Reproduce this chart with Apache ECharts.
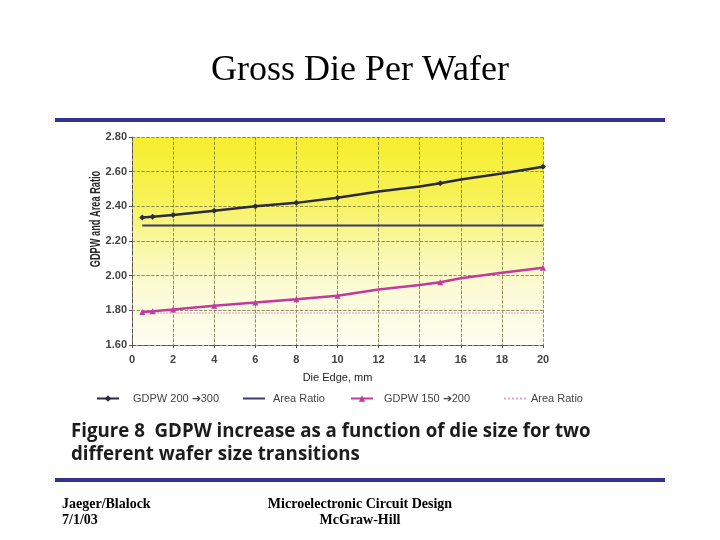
<!DOCTYPE html>
<html>
<head>
<meta charset="utf-8">
<title>Gross Die Per Wafer</title>
<script src="https://cdn.jsdelivr.net/npm/echarts@6.0.0/dist/echarts.min.js"></script>
<style>
  html, body { margin: 0; padding: 0; background: #fff; }
  #chart { width: 720px; height: 540px; }
</style>
</head>
<body>
<div id="chart"></div>
<script>
const dieEdge = [0.5, 1, 2, 4, 6, 8, 10, 12, 14, 15, 16, 18, 20];
// only these points carry a marker in the original figure
const markedEdge = [0.5, 1, 2, 4, 6, 8, 10, 15, 20];

const gdpw200to300 = [2.335, 2.34, 2.35, 2.375, 2.40, 2.42, 2.45, 2.485, 2.515, 2.533, 2.555, 2.59, 2.628];
const gdpw150to200 = [1.79, 1.795, 1.805, 1.827, 1.845, 1.864, 1.884, 1.92, 1.946, 1.962, 1.985, 2.017, 2.046];

// the area ratios are flat lines
const ratioEdge = [0.5, 20];
const areaRatio200to300 = [2.29, 2.29];
const areaRatio150to200 = [1.785, 1.785];

const seriesNames = ["GDPW 200 \u2794300", "Area Ratio (200-300)", "GDPW 150 \u2794200", "Area Ratio (150-200)"];

const FONT = '"Liberation Sans", Arial, sans-serif';
const SERIF = '"Liberation Serif", "Times New Roman", serif';

function toPoints(xs, ys, marked) {
  return xs.map((x, i) => {
    const p = { value: [x, ys[i]] };
    if (marked && marked.indexOf(x) < 0) p.symbol = "none";
    return p;
  });
}

const chart = echarts.init(document.getElementById("chart"));

// one legend per entry so each can sit where the scan has it
const legendSpots = [
  { left: 96, pad: 9, lineOnly: false },
  { left: 242, pad: 3, lineOnly: true },
  { left: 350, pad: 6, lineOnly: false },
  { left: 503, pad: 0, lineOnly: true },
];

const option = {
  animation: false,
  backgroundColor: "#fff",
  grid: {
    left: 132,
    right: 177,
    top: 137,
    bottom: 195,
    show: true,
    borderWidth: 0,
    backgroundColor: new echarts.graphic.LinearGradient(0, 0, 0, 1, [
      { offset: 0, color: "#f6ee2c" },
      { offset: 0.3, color: "#f7f257" },
      { offset: 0.5, color: "#f9f7a0" },
      { offset: 0.72, color: "#fcfbd4" },
      { offset: 1, color: "#fefef2" },
    ]),
  },
  legend: legendSpots.map((s, i) => ({
    data: [
      s.lineOnly
        ? { name: seriesNames[i], itemStyle: { opacity: 0 } }
        : { name: seriesNames[i] },
    ],
    left: s.left,
    top: 393,
    itemWidth: 22,
    itemHeight: 8,
    padding: 0,
    selectedMode: false,
    formatter: (name) => name.replace(/ \(.*\)$/, ""),
    textStyle: {
      fontFamily: FONT,
      fontSize: 11,
      color: "#444",
      padding: [0, 0, 0, s.pad],
    },
  })),
  xAxis: {
    type: "value",
    min: 0,
    max: 20,
    interval: 2,
    name: "Die Edge, mm",
    nameLocation: "middle",
    nameGap: 27,
    nameTextStyle: { fontFamily: FONT, fontSize: 11, color: "#222" },
    axisLine: { lineStyle: { color: "#555", type: "dashed", width: 1 } },
    axisTick: { show: true, length: 3, lineStyle: { color: "#555" } },
    axisLabel: {
      margin: 9,
      fontFamily: FONT,
      fontSize: 11,
      fontWeight: "bold",
      color: "#444",
    },
    splitLine: { show: true, lineStyle: { color: "#77733f", type: "dashed", width: 0.8 } },
  },
  yAxis: {
    type: "value",
    min: 1.6,
    max: 2.8,
    interval: 0.2,
    axisLine: { show: true, lineStyle: { color: "#555", type: "dashed", width: 1 } },
    axisTick: { show: true, length: 3, lineStyle: { color: "#555" } },
    axisLabel: {
      margin: 5,
      fontFamily: FONT,
      fontSize: 11,
      fontWeight: "bold",
      color: "#444",
      formatter: (v) => v.toFixed(2),
    },
    splitLine: { show: true, lineStyle: { color: "#77733f", type: "dashed", width: 0.8 } },
  },
  series: [
    {
      name: seriesNames[0],
      type: "line",
      data: toPoints(dieEdge, gdpw200to300, markedEdge),
      symbol: "diamond",
      symbolSize: 6,
      color: "#2b2a40",
      lineStyle: { width: 2.5, color: "#2b2a40" },
      z: 4,
    },
    {
      name: seriesNames[1],
      type: "line",
      data: toPoints(ratioEdge, areaRatio200to300),
      symbol: "none",
      color: "#3b3b6c",
      lineStyle: { width: 2, color: "#3b3b6c" },
      z: 3,
    },
    {
      name: seriesNames[2],
      type: "line",
      data: toPoints(dieEdge, gdpw150to200, markedEdge),
      symbol: "triangle",
      symbolSize: 6,
      color: "#c23a9e",
      lineStyle: { width: 2.5, color: "#c23a9e" },
      z: 4,
    },
    {
      name: seriesNames[3],
      type: "line",
      data: toPoints(ratioEdge, areaRatio150to200),
      symbol: "none",
      color: "#dda2cb",
      lineStyle: { width: 1.5, type: "dotted", color: "#dda2cb" },
      z: 3,
    },
  ],
  graphic: [
    // slide title
    {
      type: "text",
      left: "center",
      top: 53,
      style: { text: "Gross Die Per Wafer", font: "36px " + SERIF, fill: "#000" },
    },
    // blue rules above and below the figure
    { type: "rect", shape: { x: 55, y: 118, width: 610, height: 4 }, style: { fill: "#33338f" } },
    { type: "rect", shape: { x: 55, y: 478, width: 610, height: 4 }, style: { fill: "#33338f" } },
    // y axis name, squeezed like the scan
    {
      type: "text",
      x: 96,
      y: 219,
      rotation: Math.PI / 2,
      scaleX: 0.66,
      style: {
        text: "GDPW and Area Ratio",
        font: "bold 14px " + FONT,
        fill: "#2a2a2a",
        align: "center",
        verticalAlign: "middle",
      },
    },
    // figure caption
    {
      type: "text",
      x: 71,
      y: 432,
      style: {
        text: "Figure 8  GDPW increase as a function of die size for two",
        font: 'bold 18.7px "Open Sans", sans-serif',
        fill: "#1c1c1c",
        verticalAlign: "middle",
      },
    },
    {
      type: "text",
      x: 71,
      y: 455,
      style: {
        text: "different wafer size transitions",
        font: 'bold 18.7px "Open Sans", sans-serif',
        fill: "#1c1c1c",
        verticalAlign: "middle",
      },
    },
    // footer
    { type: "text", x: 62, y: 504, style: { text: "Jaeger/Blalock", font: "bold 14px " + SERIF, fill: "#000", verticalAlign: "middle" } },
    { type: "text", x: 62, y: 520, style: { text: "7/1/03", font: "bold 14px " + SERIF, fill: "#000", verticalAlign: "middle" } },
    { type: "text", x: 360, y: 504, style: { text: "Microelectronic Circuit Design", font: "bold 14px " + SERIF, fill: "#000", align: "center", verticalAlign: "middle" } },
    { type: "text", x: 360, y: 520, style: { text: "McGraw-Hill", font: "bold 14px " + SERIF, fill: "#000", align: "center", verticalAlign: "middle" } },
  ],
};

chart.setOption(option);
</script>
</body>
</html>
